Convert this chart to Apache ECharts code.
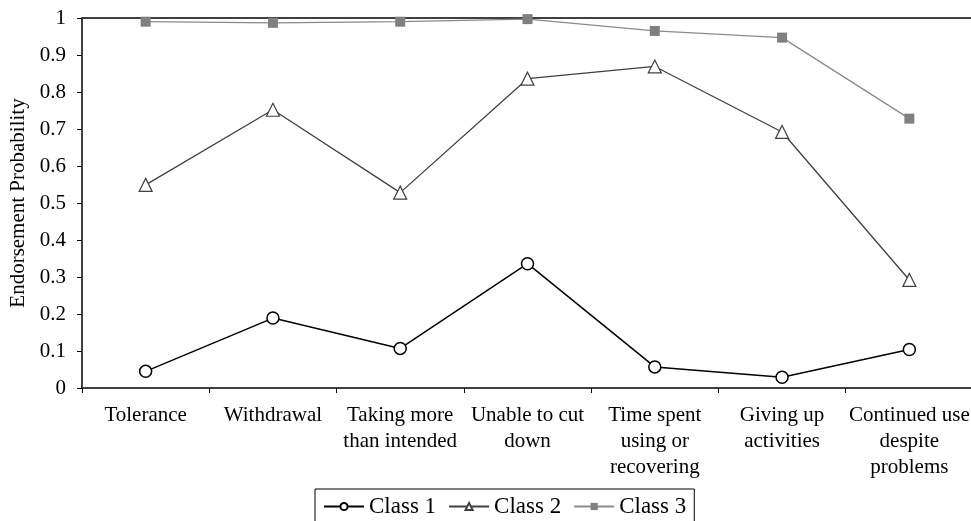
<!DOCTYPE html>
<html>
<head>
<meta charset="utf-8">
<script src="https://cdn.jsdelivr.net/npm/echarts@6/dist/echarts.min.js"></script>
<style>
  html, body { margin: 0; padding: 0; background: #fff; }
  #chart { width: 971px; height: 521px; }
</style>
</head>
<body>
<div id="chart"></div>
<script>
  // categories (criteria)
  var criteria = ['Tolerance', 'Withdrawal', 'Taking more\nthan intended', 'Unable to cut\ndown',
    'Time spent\nusing or\nrecovering', 'Giving up\nactivities', 'Continued use\ndespite\nproblems']
  var class1 = [0.045, 0.189, 0.107, 0.336, 0.057, 0.029, 0.104]
  var class2 = [0.549, 0.752, 0.528, 0.836, 0.869, 0.692, 0.292]
  var class3 = [0.990, 0.987, 0.990, 0.997, 0.965, 0.947, 0.728]
  var yTicks = ['0', '0.1', '0.2', '0.3', '0.4', '0.5', '0.6', '0.7', '0.8', '0.9', '1']

  var font = 'Liberation Serif'
  var chart = echarts.init(document.getElementById('chart'))

  chart.setOption({
    animation: false,
    textStyle: { fontFamily: font },
    grid: { left: 82, right: -2, top: 18, bottom: 133, containLabel: false, outerBoundsMode: 'none' },
    legend: {
      top: 489,
      left: 315,
      itemWidth: 40,
      itemHeight: 9,
      itemGap: 12,
      borderColor: '#000',
      borderWidth: 1,
      padding: [6, 8, 12, 8],
      textStyle: { fontFamily: font, fontSize: 23, color: '#000' },
      data: ['Class 1', 'Class 2', 'Class 3']
    },
    xAxis: [{
      type: 'category',
      data: criteria,
      boundaryGap: true,
      axisLine: { lineStyle: { color: '#404040', width: 2 } },
      axisTick: { show: true, length: 5, inside: false, lineStyle: { color: '#000' } },
      axisLabel: { color: '#000', fontSize: 21, lineHeight: 26, margin: 14, interval: 0 }
    }, {
      type: 'category',
      position: 'top',
      data: criteria,
      axisLine: { show: true, lineStyle: { color: '#404040', width: 2 } },
      axisTick: { show: false },
      axisLabel: { show: false }
    }],
    yAxis: {
      type: 'value',
      min: 0,
      max: 1,
      interval: 0.1,
      name: 'Endorsement Probability',
      nameLocation: 'middle',
      nameGap: 50,
      nameTextStyle: { fontFamily: font, fontSize: 21, color: '#000' },
      axisLine: { show: true, lineStyle: { color: '#000', width: 1.5 } },
      axisTick: { show: true, length: 5, lineStyle: { color: '#000' } },
      splitLine: { show: false },
      axisLabel: {
        color: '#000', fontSize: 21, margin: 16,
        formatter: function (v) { return yTicks[Math.round(v * 10)] }
      }
    },
    series: [
      {
        name: 'Class 1',
        type: 'line',
        data: class1,
        symbol: 'circle',
        symbolSize: 12,
        color: '#000',
        lineStyle: { color: '#000', width: 1.5 },
        itemStyle: { color: '#fff', borderColor: '#000', borderWidth: 1.5 }
      },
      {
        name: 'Class 2',
        type: 'line',
        data: class2,
        symbol: 'triangle',
        symbolSize: 13,
        color: '#404040',
        lineStyle: { color: '#404040', width: 1.3 },
        itemStyle: { color: '#fff', borderColor: '#404040', borderWidth: 1.2 }
      },
      {
        name: 'Class 3',
        type: 'line',
        data: class3,
        symbol: 'rect',
        symbolSize: 10,
        color: '#808080',
        lineStyle: { color: '#8a8a8a', width: 1.3 },
        itemStyle: { color: '#808080', borderColor: '#808080', borderWidth: 0 }
      }
    ]
  })
</script>
</body>
</html>
